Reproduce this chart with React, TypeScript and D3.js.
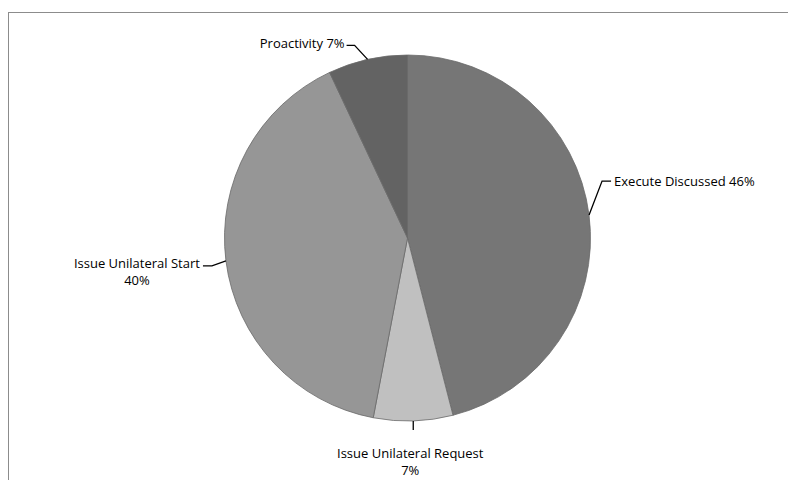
import React from "react";
import * as d3 from "d3";

const categories = ["Execute Discussed", "Issue Unilateral Request", "Issue Unilateral Start", "Proactivity"];
const shares = [46, 7, 40, 7];
const sliceColors = ["#767676", "#c0c0c0", "#969696", "#636363"];

const W = 788;
const H = 480;
const cx = 407.5;
const cy = 238;
const R = 183;
const FONT = "'Open Sans', 'Liberation Sans', sans-serif";
const LINE_GAP = 17;

type Slice = d3.PieArcDatum<number>;

// Leader-line and label layout per slice, expressed relative to the point where
// the line leaves the pie's rim.
type LabelSpec = {
  elbow: [number, number];
  end: [number, number];
  anchor: "start" | "middle" | "end";
  text: [number, number];
  lines: string[];
};

function labelSpec(i: number, rim: [number, number]): LabelSpec {
  const [x, y] = rim;
  const name = categories[i];
  const pct = `${shares[i]}%`;
  if (i === 0) {
    return { elbow: [x + 13, y - 34], end: [x + 22, y - 34], anchor: "start", text: [x + 25, y - 29], lines: [`${name} ${pct}`] };
  }
  if (i === 1) {
    return { elbow: [x, y + 9], end: [x, y + 9], anchor: "middle", text: [x - 3, y + 37], lines: [name, pct] };
  }
  if (i === 2) {
    return { elbow: [x - 14, y + 5], end: [x - 23, y + 5], anchor: "middle", text: [x - 89, y + 7], lines: [name, pct] };
  }
  return { elbow: [x - 13, y - 14], end: [x - 21, y - 14], anchor: "end", text: [x - 23, y - 11], lines: [`${name} ${pct}`] };
}

export default function App() {
  const pie = d3.pie<number>().sort(null).value((d) => d)(shares);
  const arc = d3.arc<Slice>().innerRadius(0).outerRadius(R);

  return (
    <svg
      width={W}
      height={H}
      style={{ position: "absolute", left: 0, top: 0, background: "#fff" }}
      fontFamily={FONT}
    >
      <rect x={8.5} y={12.5} width={W + 10} height={H + 10} fill="#fff" stroke="#8c8c8c" strokeWidth={1} />
      <g transform={`translate(${cx},${cy})`}>
        {pie.map((s, i) => (
          <path key={i} d={arc(s) || ""} fill={sliceColors[i]} stroke="#6a6a6a" strokeWidth={0.8} />
        ))}
      </g>
      {pie.map((s, i) => {
        const mid = (s.startAngle + s.endAngle) / 2;
        const rim: [number, number] = [cx + R * Math.sin(mid), cy - R * Math.cos(mid)];
        const spec = labelSpec(i, rim);
        const pts = [rim, spec.elbow, spec.end];
        return (
          <g key={i}>
            <path d={d3.line()(pts) || ""} fill="none" stroke="#000" strokeWidth={1.3} />
            {spec.lines.map((ln, k) => (
              <text
                key={k}
                x={spec.text[0]}
                y={spec.text[1] + k * LINE_GAP}
                textAnchor={spec.anchor}
                fontSize={13}
                fill="#000"
              >
                {ln}
              </text>
            ))}
          </g>
        );
      })}
    </svg>
  );
}
